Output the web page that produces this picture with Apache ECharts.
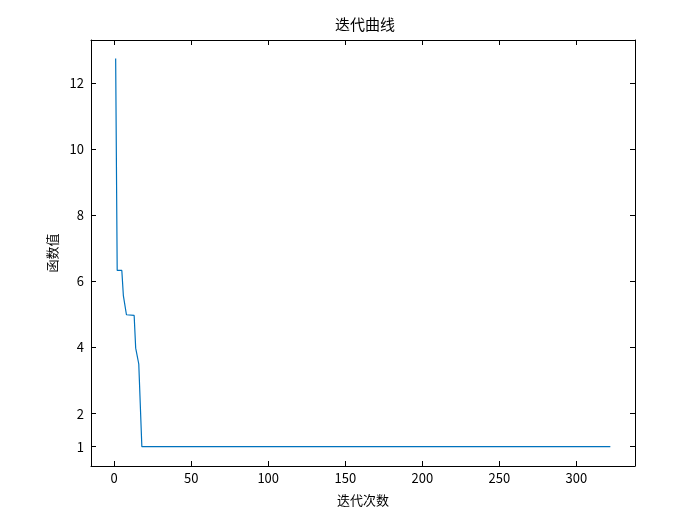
<!DOCTYPE html>
<html>
<head>
<meta charset="utf-8">
<script src="https://cdn.jsdelivr.net/npm/echarts@6/dist/echarts.min.js"></script>
<style>
  html, body { margin: 0; padding: 0; background: #ffffff; }
  #chart { width: 700px; height: 524px; }
</style>
</head>
<body>
<div id="chart"></div>
<script>
// 迭代步数与对应函数值（拐点，后面一直保持 1.0）
const iterations = [1, 2, 5, 6, 7, 8, 13, 14, 15, 16, 17, 18, 322];
const fValues = [12.74, 6.33, 6.33, 5.57, 5.55, 4.99, 4.97, 3.98, 3.96, 3.50, 3.49, 1.0, 1.0];
const xTicks = [0, 50, 100, 150, 200, 250, 300];
const yTicks = [1, 2, 4, 6, 8, 10, 12];

const points = iterations.map((x, i) => [x, fValues[i]]);
const font = '"Noto Sans CJK SC", "Noto Sans", sans-serif';

const xRange = { min: -15, max: 338 };
const yRange = { min: 0.415, max: 13.3 };

const frameLine = { show: true, onZero: false, lineStyle: { color: '#000', width: 1 } };

const chart = echarts.init(document.getElementById('chart'));
chart.setOption({
  animation: false,
  backgroundColor: '#ffffff',
  title: {
    text: '迭代曲线',
    left: 330,
    top: 12,
    textStyle: { fontFamily: font, fontSize: 15, fontWeight: 'normal', color: '#000' }
  },
  grid: { left: 91, right: 65, top: 40, bottom: 58 },
  xAxis: [
    {
      type: 'value',
      min: xRange.min,
      max: xRange.max,
      name: '迭代次数',
      nameLocation: 'middle',
      nameGap: 28,
      nameTextStyle: { fontFamily: font, fontSize: 13, color: '#000' },
      axisLine: frameLine,
      axisTick: { show: true, inside: true, length: 5, customValues: xTicks, lineStyle: { color: '#000' } },
      axisLabel: { customValues: xTicks, margin: 6, fontFamily: font, fontSize: 13, color: '#000' },
      splitLine: { show: false }
    },
    {
      type: 'value',
      position: 'top',
      min: xRange.min,
      max: xRange.max,
      axisLine: frameLine,
      axisTick: { show: true, inside: true, length: 5, customValues: xTicks, lineStyle: { color: '#000' } },
      axisLabel: { show: false },
      splitLine: { show: false }
    }
  ],
  yAxis: [
    {
      type: 'value',
      min: yRange.min,
      max: yRange.max,
      name: '函数值',
      nameLocation: 'middle',
      nameGap: 30,
      nameTextStyle: { fontFamily: font, fontSize: 13, color: '#000' },
      axisLine: frameLine,
      axisTick: { show: true, inside: true, length: 5, customValues: yTicks, lineStyle: { color: '#000' } },
      axisLabel: { customValues: yTicks, margin: 7, fontFamily: font, fontSize: 13, color: '#000' },
      splitLine: { show: false }
    },
    {
      type: 'value',
      position: 'right',
      min: yRange.min,
      max: yRange.max,
      axisLine: frameLine,
      axisTick: { show: true, inside: true, length: 5, customValues: yTicks, lineStyle: { color: '#000' } },
      axisLabel: { show: false },
      splitLine: { show: false }
    }
  ],
  series: [
    {
      type: 'line',
      xAxisIndex: 0,
      yAxisIndex: 0,
      data: points,
      showSymbol: false,
      symbol: 'none',
      lineStyle: { color: '#0072BD', width: 1.2 }
    }
  ]
});
</script>
</body>
</html>
